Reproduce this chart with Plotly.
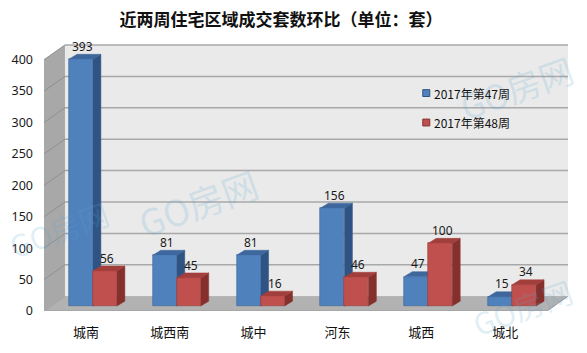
import plotly.graph_objects as go

# ---------------- data ----------------
categories = ["城南", "城西南", "城中", "河东", "城西", "城北"]
series_names = ["2017年第47周", "2017年第48周"]
week47 = [393, 81, 81, 156, 47, 15]
week48 = [56, 45, 16, 46, 100, 34]
y_ticks = [0, 50, 100, 150, 200, 250, 300, 350, 400]
title_text = "近两周住宅区域成交套数环比（单位：套）"

# ---------------- geometry (pixel scale of the axes) ----------------
W, H = 587, 353
ML, MR, MT, MB = 43, 16, 43, 37
PX_X = 84.0          # pixels per category unit
PX_Y = 0.64          # pixels per value unit
XMIN = -0.5
XMAX = XMIN + (W - ML - MR) / PX_X
YMAX = (H - MT - MB) / PX_Y

def ux(px):  # pixel distance -> x data units
    return px / PX_X

def uy(px):  # pixel distance -> y data units
    return px / PX_Y

wall_dx, wall_dy = ux(21), uy(15)     # depth of the 3D box
plane_dx, plane_dy = ux(7), uy(5)     # bars' front plane offset
bar_dx, bar_dy = ux(8), uy(5)         # bar depth
bar_w = ux(24)
top_val = y_ticks[-1]

colors = {
    "front": ["#4F81BD", "#C0504D"],
    "top": ["#3D679D", "#A23F3C"],
    "side": ["#2F5484", "#86302E"],
    "edge": ["#3A6496", "#9A3B38"],
}

def poly(pts):
    return "M " + " L ".join(f"{x},{y}" for x, y in pts) + " Z"

shapes = []
# floor
shapes.append(dict(type="path", xref="x", yref="y", layer="below",
                   path=poly([(XMIN, 0), (XMIN + 6, 0), (XMIN + 6 + wall_dx, wall_dy), (XMIN + wall_dx, wall_dy)]),
                   fillcolor="#B2B2B2", line=dict(color="#9A9A9A", width=1)))
# back wall
shapes.append(dict(type="path", xref="x", yref="y", layer="below",
                   path=poly([(XMIN + wall_dx, wall_dy), (XMIN + 6 + wall_dx, wall_dy),
                              (XMIN + 6 + wall_dx, top_val + wall_dy), (XMIN + wall_dx, top_val + wall_dy)]),
                   fillcolor="#EAEAEA", line=dict(width=0)))
# left wall
shapes.append(dict(type="path", xref="x", yref="y", layer="below",
                   path=poly([(XMIN, 0), (XMIN + wall_dx, wall_dy), (XMIN + wall_dx, top_val + wall_dy), (XMIN, top_val)]),
                   fillcolor="#A8A8A8", line=dict(width=0)))
# gridlines
for v in y_ticks[1:]:
    shapes.append(dict(type="line", xref="x", yref="y", layer="below",
                       x0=XMIN + wall_dx, x1=XMIN + 6 + wall_dx, y0=v + wall_dy, y1=v + wall_dy,
                       line=dict(color="#A8A8A8", width=1.5)))
    shapes.append(dict(type="line", xref="x", yref="y", layer="below",
                       x0=XMIN, x1=XMIN + wall_dx, y0=v, y1=v + wall_dy,
                       line=dict(color="#909090", width=1)))

# 3D faces (top & side) for each bar, drawn left to right
series_vals = [week47, week48]
bar_x = [[], []]
for i in range(len(categories)):
    gc = i + plane_dx
    for s in range(2):
        x0 = gc - bar_w + s * bar_w
        x1 = x0 + bar_w
        bar_x[s].append((x0 + x1) / 2)
        b = plane_dy
        t = plane_dy + series_vals[s][i]
        shapes.append(dict(type="path", xref="x", yref="y", layer="below",
                           path=poly([(x1, b), (x1 + bar_dx, b + bar_dy), (x1 + bar_dx, t + bar_dy), (x1, t)]),
                           fillcolor=colors["side"][s], line=dict(color=colors["side"][s], width=0.5)))
        shapes.append(dict(type="path", xref="x", yref="y", layer="below",
                           path=poly([(x0, t), (x1, t), (x1 + bar_dx, t + bar_dy), (x0 + bar_dx, t + bar_dy)]),
                           fillcolor=colors["top"][s], line=dict(color=colors["top"][s], width=0.5)))

fig = go.Figure()
for s in range(2):
    fig.add_trace(go.Bar(
        x=bar_x[s], y=series_vals[s], base=plane_dy, width=bar_w,
        name=series_names[s], showlegend=False,
        marker=dict(color=colors["front"][s], line=dict(color=colors["edge"][s], width=0.6)),
    ))

annotations = []
# data labels
for s in range(2):
    for i, v in enumerate(series_vals[s]):
        annotations.append(dict(
            x=bar_x[s][i] + ux(2), y=plane_dy + v + bar_dy + uy(8), xref="x", yref="y",
            text=str(v), showarrow=False, xanchor="center", yanchor="middle",
            font=dict(family="Noto Sans, DejaVu Sans", size=12, color="#1A1A1A")))

def paper_x(px):
    return (px - ML) / (W - ML - MR)

def paper_y(py):
    return (H - MB - py) / (H - MT - MB)

# legend (text + swatches)
for s, py in enumerate([94, 124]):
    shapes.append(dict(type="rect", xref="paper", yref="paper",
                       x0=paper_x(422.5), x1=paper_x(429.5), y0=paper_y(py + 3.5), y1=paper_y(py - 3.5),
                       fillcolor=colors["front"][s], line=dict(color=colors["side"][s], width=1)))
    annotations.append(dict(x=paper_x(432), y=paper_y(py), xref="paper", yref="paper",
                            text=series_names[s], showarrow=False, xanchor="left", yanchor="middle",
                            font=dict(family="Noto Sans CJK SC", size=12, color="#111111")))

# watermarks (kept inside the picture)
for (px, py, sz) in [(197, 205, 36), (516, 88, 34), (58, 232, 30), (522, 312, 30)]:
    annotations.append(dict(x=paper_x(px), y=paper_y(py), xref="paper", yref="paper",
                            text="GO房网", showarrow=False, textangle=-20,
                            xanchor="center", yanchor="middle",
                            font=dict(family="Noto Sans CJK SC", size=sz, color="rgba(90,165,210,0.20)")))

fig.update_layout(
    width=W, height=H,
    margin=dict(l=ML, r=MR, t=MT, b=MB),
    paper_bgcolor="white", plot_bgcolor="white",
    barmode="overlay", bargap=0,
    title=dict(text=title_text, x=281 / W, xanchor="center", xref="container",
               y=1 - 20 / H, yanchor="middle", yref="container",
               font=dict(family="Noto Sans CJK SC", size=17, color="#111111", weight="bold")),
    shapes=shapes, annotations=annotations,
    xaxis=dict(range=[XMIN, XMAX], tickvals=list(range(len(categories))), ticktext=categories,
               showgrid=False, zeroline=False, showline=False, ticks="",
               ticklabelstandoff=12,
               tickfont=dict(family="Noto Sans CJK SC", size=13, color="#111111")),
    yaxis=dict(range=[0, YMAX], tickvals=y_ticks, showgrid=False, zeroline=False, showline=False,
               ticks="", ticklabelstandoff=10,
               tickfont=dict(family="Noto Sans, DejaVu Sans", size=12.5, color="#1A1A1A")),
)

fig.write_html("out.html")
